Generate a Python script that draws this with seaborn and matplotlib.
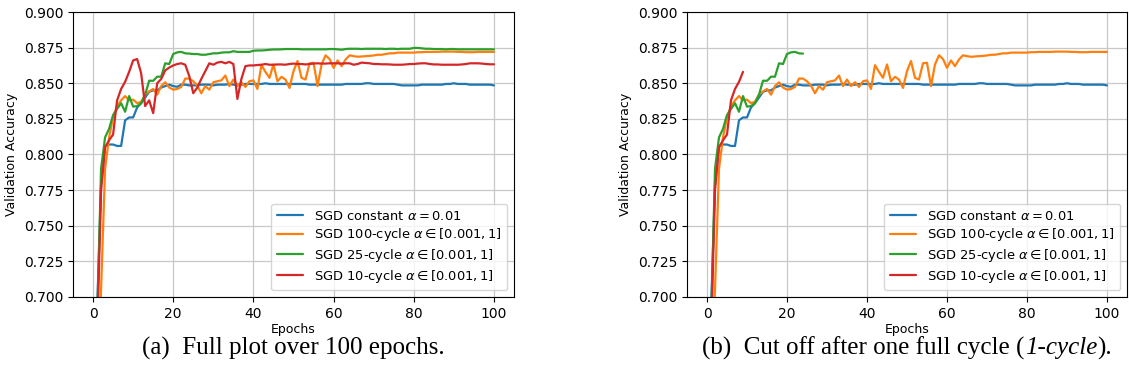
import numpy as np
import pandas as pd
import matplotlib
matplotlib.use("Agg")
import matplotlib.pyplot as plt
from matplotlib.ticker import FormatStrFormatter
import seaborn as sns

# ---------------- data ----------------
epochs = list(range(1, 101))

sgd_constant = [
    0.690, 0.778, 0.806, 0.807, 0.807, 0.806, 0.806, 0.824, 0.826, 0.826,
    0.833, 0.836, 0.840, 0.844, 0.845, 0.845, 0.847, 0.848, 0.849, 0.848,
    0.8475, 0.849, 0.849, 0.8485, 0.8485, 0.8485, 0.849, 0.849, 0.849, 0.8485,
    0.849, 0.849, 0.849, 0.8495, 0.849, 0.849, 0.849, 0.8495, 0.8495, 0.8495,
    0.8495, 0.8495, 0.850, 0.8495, 0.8495, 0.8495, 0.8495, 0.8495, 0.8495, 0.8495,
    0.8495, 0.8495, 0.8495, 0.849, 0.849, 0.849, 0.849, 0.849, 0.849, 0.849,
    0.849, 0.849, 0.8495, 0.8495, 0.8495, 0.8495, 0.8495, 0.850, 0.850, 0.8495,
    0.8495, 0.8495, 0.8495, 0.8495, 0.8495, 0.849, 0.8485, 0.8485, 0.8485, 0.8485,
    0.8485, 0.849, 0.849, 0.849, 0.849, 0.849, 0.849, 0.8495, 0.8495, 0.850,
    0.8495, 0.8495, 0.8495, 0.849, 0.849, 0.849, 0.849, 0.849, 0.849, 0.8485,
]

sgd_100cycle = [
    0.640, 0.705, 0.790, 0.812, 0.826, 0.834, 0.838, 0.841, 0.838, 0.8385,
    0.836, 0.837, 0.842, 0.8443, 0.846, 0.842, 0.848, 0.8507, 0.847, 0.8455,
    0.846, 0.8474, 0.8533, 0.8533, 0.8514, 0.8483, 0.843, 0.848, 0.8455, 0.8507,
    0.8514, 0.852, 0.8554, 0.848, 0.8526, 0.848, 0.8507, 0.8474, 0.8514, 0.852,
    0.846, 0.8627, 0.858, 0.8538, 0.8632, 0.8514, 0.8545, 0.8526, 0.8467, 0.8585,
    0.8656, 0.8538, 0.8526, 0.864, 0.8644, 0.848, 0.8632, 0.8696, 0.867, 0.8608,
    0.866, 0.862, 0.8667, 0.8696, 0.869, 0.8686, 0.8688, 0.869, 0.8692, 0.8695,
    0.870, 0.870, 0.8705, 0.871, 0.871, 0.8715, 0.8715, 0.8715, 0.8715, 0.8715,
    0.8718, 0.8718, 0.872, 0.872, 0.872, 0.872, 0.8722, 0.8722, 0.8722, 0.8722,
    0.872, 0.872, 0.8718, 0.8718, 0.8718, 0.872, 0.872, 0.872, 0.872, 0.872,
]

sgd_25cycle = [
    0.680, 0.790, 0.812, 0.818, 0.8277, 0.832, 0.836, 0.830, 0.841, 0.8336,
    0.834, 0.836, 0.842, 0.8518, 0.8517, 0.8546, 0.8546, 0.864, 0.8635, 0.8705,
    0.8717, 0.872, 0.871, 0.8708, 0.8705, 0.8705, 0.870, 0.870, 0.8705, 0.871,
    0.871, 0.8715, 0.8717, 0.8717, 0.8725, 0.872, 0.872, 0.872, 0.872, 0.8728,
    0.873, 0.873, 0.8732, 0.8735, 0.8737, 0.8737, 0.8738, 0.874, 0.874, 0.874,
    0.874, 0.8738, 0.8738, 0.8738, 0.8738, 0.8738, 0.8738, 0.8738, 0.874, 0.874,
    0.8738, 0.8735, 0.874, 0.8742, 0.8742, 0.8742, 0.874, 0.8742, 0.8742, 0.8742,
    0.8742, 0.8742, 0.874, 0.8742, 0.8742, 0.874, 0.8742, 0.8742, 0.8742, 0.8748,
    0.8748, 0.8745, 0.8742, 0.8742, 0.874, 0.874, 0.874, 0.8738, 0.874, 0.874,
    0.8738, 0.8738, 0.8738, 0.8738, 0.8738, 0.8738, 0.8738, 0.8738, 0.8738, 0.8738,
]

sgd_10cycle = [
    0.670, 0.775, 0.805, 0.810, 0.814, 0.838, 0.846, 0.851, 0.858, 0.866,
    0.867, 0.857, 0.834, 0.838, 0.829, 0.850, 0.853, 0.859, 0.861, 0.8625,
    0.8635, 0.864, 0.863, 0.855, 0.843, 0.847, 0.853, 0.8585, 0.864, 0.863,
    0.8645, 0.865, 0.864, 0.865, 0.8635, 0.839, 0.853, 0.862, 0.8625, 0.8625,
    0.8628, 0.863, 0.8635, 0.863, 0.863, 0.8632, 0.8632, 0.863, 0.8635, 0.8638,
    0.8635, 0.8635, 0.8632, 0.8635, 0.8638, 0.864, 0.8638, 0.8638, 0.864, 0.864,
    0.864, 0.8638, 0.864, 0.864, 0.863, 0.8635, 0.8645, 0.8642, 0.864, 0.8635,
    0.8635, 0.8633, 0.8633, 0.8632, 0.863, 0.863, 0.863, 0.8632, 0.8635, 0.8635,
    0.8638, 0.864, 0.864, 0.8635, 0.8632, 0.8632, 0.863, 0.863, 0.863, 0.863,
    0.863, 0.8632, 0.8635, 0.864, 0.864, 0.864, 0.8638, 0.8635, 0.8633, 0.8633,
]

labels = [
    r"SGD constant $\alpha = 0.01$",
    r"SGD 100-cycle $\alpha \in [0.001, 1]$",
    r"SGD 25-cycle $\alpha \in [0.001, 1]$",
    r"SGD 10-cycle $\alpha \in [0.001, 1]$",
]
# number of epochs shown per series in panel (b): one full cycle
cutoff_b = [100, 100, 24, 9]

y_ticks = [0.700, 0.725, 0.750, 0.775, 0.800, 0.825, 0.850, 0.875, 0.900]
x_ticks = [0, 20, 40, 60, 80, 100]

captions = [
    [("(a)  Full plot over 100 epochs.", "normal")],
    [("(b)  Cut off after one full cycle (", "normal"), ("1-cycle", "italic"), (").", "normal")],
]

# ---------------- style ----------------
sns.set_theme(context="notebook", style="ticks")
plt.rcParams.update({
    "font.family": ["DejaVu Sans"],
    "font.size": 10,
    "axes.labelsize": 10,
    "xtick.labelsize": 10,
    "ytick.labelsize": 10,
    "legend.fontsize": 10,
    "axes.edgecolor": "black",
    "axes.linewidth": 0.8,
    "text.color": "black",
    "axes.labelcolor": "black",
    "xtick.color": "black",
    "ytick.color": "black",
    "xtick.major.size": 3.5,
    "ytick.major.size": 3.5,
    "xtick.major.width": 0.8,
    "ytick.major.width": 0.8,
    "grid.color": "#c8c8c8",
    "grid.linewidth": 0.9,
    "lines.linewidth": 1.5,
    "mathtext.fontset": "dejavusans",
})

palette = sns.color_palette("tab10")[:4]
series = [sgd_constant, sgd_100cycle, sgd_25cycle, sgd_10cycle]

fig = plt.figure(figsize=(11.29, 3.92), dpi=100)
ax_a = fig.add_axes([73 / 1129, 1 - 297 / 392, 441 / 1129, 285 / 392])
ax_b = fig.add_axes([687 / 1129, 1 - 297 / 392, 440 / 1129, 285 / 392])

for ax, cut in [(ax_a, [100, 100, 100, 100]), (ax_b, cutoff_b)]:
    for vals, lab, col, n in zip(series, labels, palette, cut):
        df = pd.DataFrame({"Epochs": epochs[:n], "acc": vals[:n]})
        sns.lineplot(data=df, x="Epochs", y="acc", ax=ax, color=col,
                     label=lab, linewidth=1.6)
    ax.set_xlim(-5, 105)
    ax.set_ylim(0.700, 0.900)
    ax.set_yticks(y_ticks)
    ax.set_xticks(x_ticks)
    ax.yaxis.set_major_formatter(FormatStrFormatter("%.3f"))
    ax.set_xlabel("Epochs", fontsize=9, labelpad=2)
    ax.set_ylabel("Validation Accuracy", fontsize=9, labelpad=4)
    ax.grid(True)
    for s in ax.spines.values():
        s.set_visible(True)
        s.set_color("black")
    ax.legend(loc="lower right", frameon=True, fancybox=True, framealpha=0.8,
              edgecolor="#cccccc", fontsize=9.4, labelspacing=0.28,
              borderpad=0.45, handlelength=2.0)

# ---------------- captions ----------------
fig.canvas.draw()
renderer = fig.canvas.get_renderer()
for ax, parts in zip([ax_a, ax_b], captions):
    pos = ax.get_position()
    cx = (pos.x0 + pos.x1) / 2 * 1129
    texts = []
    for txt, st in parts:
        t = fig.text(0, 1 - 348 / 392, txt, family="Liberation Serif", style=st,
                     fontsize=18, va="center", ha="left")
        texts.append(t)
    fig.canvas.draw()
    widths = [t.get_window_extent(renderer).width for t in texts]
    x = cx - sum(widths) / 2
    for t, w in zip(texts, widths):
        t.set_x(x / 1129)
        x += w

fig.savefig("out.png", dpi=100)
